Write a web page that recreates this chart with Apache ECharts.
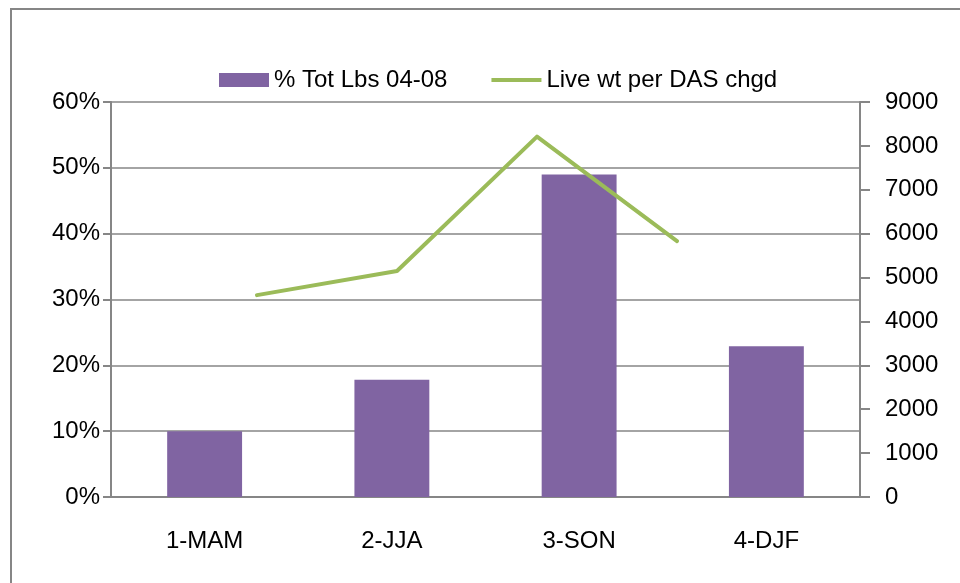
<!DOCTYPE html>
<html>
<head>
<meta charset="utf-8">
<script src="https://cdn.jsdelivr.net/npm/echarts@6/dist/echarts.min.js"></script>
<style>
  html, body { margin: 0; padding: 0; background: #fff; }
  #chart { width: 960px; height: 583px; }
</style>
</head>
<body>
<div id="chart"></div>
<script>
// seasons on the category axis
const seasons = ['1-MAM', '2-JJA', '3-SON', '4-DJF'];
// % Tot Lbs 04-08 (fraction)
const pctTotLbs = [0.100, 0.178, 0.490, 0.229];
// Live wt per DAS chgd
const liveWt = [4600, 5150, 8210, 5830];

const axisGray = '#868686';
const font = 'Liberation Sans';

const chart = echarts.init(document.getElementById('chart'));

const option = {
  animation: false,
  textStyle: { fontFamily: font, color: '#000' },
  graphic: [{
    // chart frame (only left/top edges are inside the picture)
    type: 'rect',
    shape: { x: 11, y: 9, width: 2000, height: 2000 },
    style: { fill: 'none', stroke: axisGray, lineWidth: 2 },
    silent: true
  }],
  legend: {
    left: 219,
    top: 68,
    padding: 0,
    itemWidth: 50,
    itemHeight: 14,
    itemGap: 44,
    textStyle: { fontFamily: font, fontSize: 24, color: '#000' },
    data: [
      { name: '% Tot Lbs 04-08', icon: 'rect' },
      // thin bar in the middle of a 50x14 box
      { name: 'Live wt per DAS chgd', icon: 'path://M0,0 M50,14 M0,5 L50,5 L50,9 L0,9 Z' }
    ]
  },
  grid: [
    { left: 111, right: 100, top: 102, bottom: 86 },
    // the line sits on its own offset category span
    { left: 257, right: 283, top: 102, bottom: 86 }
  ],
  xAxis: [{
    type: 'category',
    gridIndex: 0,
    data: seasons,
    axisLine: { lineStyle: { color: axisGray, width: 2 } },
    axisTick: { length: 8, lineStyle: { color: axisGray, width: 2 } },
    axisLabel: { fontFamily: font, fontSize: 24, color: '#000', margin: 32 }
  }, {
    type: 'category',
    gridIndex: 1,
    data: seasons,
    boundaryGap: false,
    show: false
  }],
  yAxis: [{
    type: 'value',
    gridIndex: 0,
    position: 'left',
    min: 0,
    max: 0.6,
    interval: 0.1,
    axisLine: { show: true, lineStyle: { color: axisGray, width: 2 } },
    axisTick: { show: true, length: 8, lineStyle: { color: axisGray, width: 2 } },
    splitLine: { lineStyle: { color: axisGray, width: 1.5 } },
    axisLabel: {
      fontFamily: font, fontSize: 24, color: '#000', margin: 11,
      formatter: v => Math.round(v * 100) + '%'
    }
  }, {
    type: 'value',
    gridIndex: 0,
    position: 'right',
    min: 0,
    max: 9000,
    interval: 1000,
    axisLine: { show: true, lineStyle: { color: axisGray, width: 2 } },
    axisTick: { show: true, length: 10, lineStyle: { color: axisGray, width: 2 } },
    splitLine: { show: false },
    axisLabel: {
      fontFamily: font, fontSize: 24, color: '#000', margin: 25,
      formatter: v => String(v)
    }
  }, {
    type: 'value',
    gridIndex: 1,
    min: 0,
    max: 9000,
    show: false
  }],
  series: [{
    name: '% Tot Lbs 04-08',
    type: 'bar',
    xAxisIndex: 0,
    yAxisIndex: 0,
    barWidth: '40%',
    itemStyle: { color: '#8064A2' },
    data: pctTotLbs
  }, {
    name: 'Live wt per DAS chgd',
    type: 'line',
    xAxisIndex: 1,
    yAxisIndex: 2,
    symbol: 'none',
    lineStyle: { color: '#9BBB59', width: 4, cap: 'round', join: 'round' },
    itemStyle: { color: '#9BBB59' },
    data: liveWt
  }]
};

chart.setOption(option);
</script>
</body>
</html>
